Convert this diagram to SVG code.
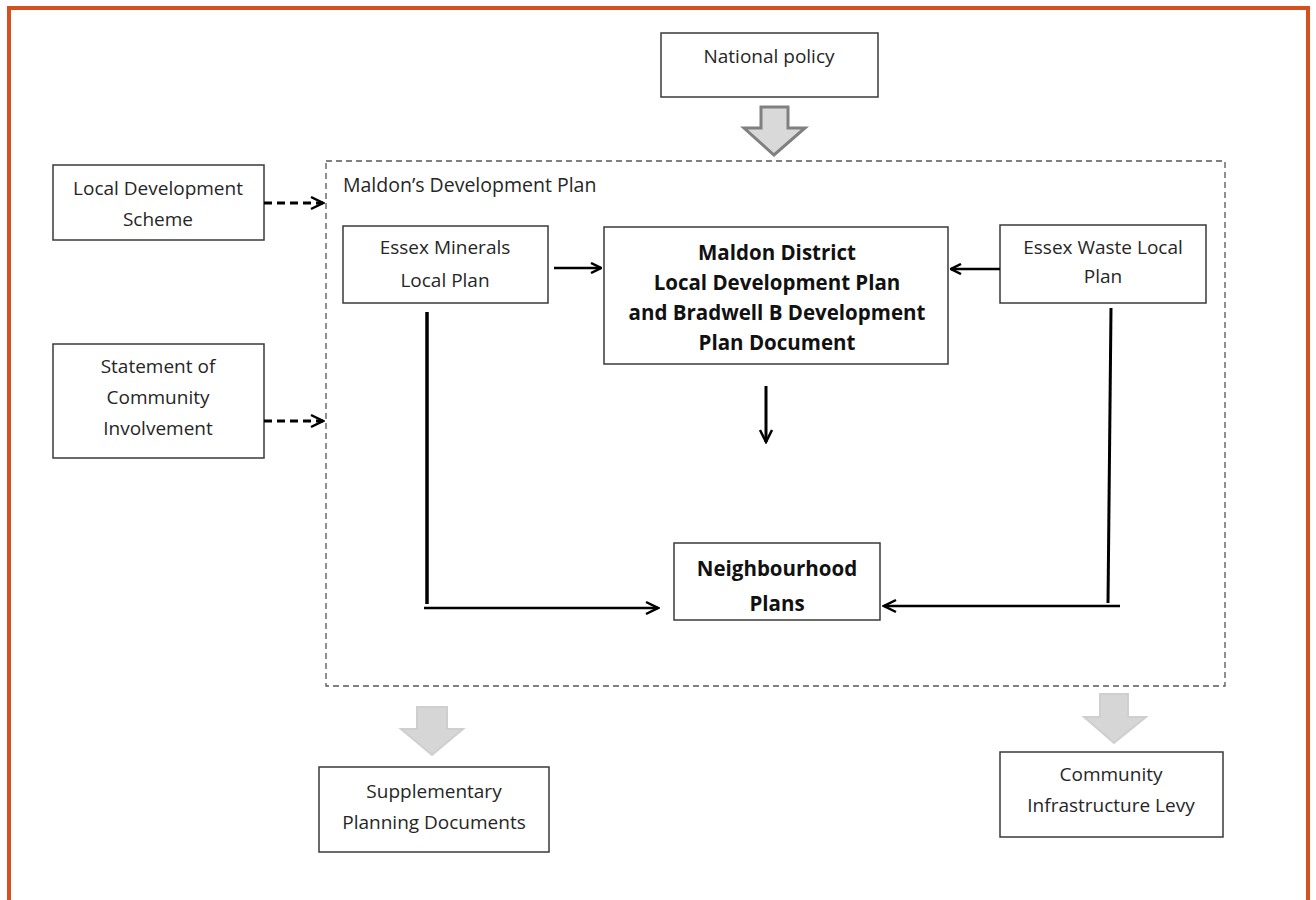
<svg xmlns="http://www.w3.org/2000/svg" width="1316" height="900" viewBox="0 0 1316 900">
<defs>
<style>
.box{fill:#fff;stroke:#3a3a3a;stroke-width:1.5}
.t{font-family:"Open Sans","Liberation Sans",sans-serif;font-size:19px;fill:#262626;text-anchor:middle}
.b{font-weight:bold;fill:#111;font-size:20.5px}
.c{fill:none;stroke:#000;stroke-width:2.5}
.d{fill:none;stroke:#000;stroke-width:3;stroke-dasharray:8 5}
.blk{fill:#d9d9d9;stroke:#808080;stroke-width:3;stroke-linejoin:miter}
.blk2{fill:#d6d6d6;stroke:#cfcfcf;stroke-width:2}
</style>
<marker id="ah" viewBox="0 0 12 12" refX="11" refY="6" markerWidth="12" markerHeight="12" markerUnits="userSpaceOnUse" orient="auto">
<path d="M1,1 L11,6 L1,11" fill="none" stroke="#000" stroke-width="2.5"/>
</marker>
<marker id="ah2" viewBox="0 0 16 16" refX="14" refY="8" markerWidth="16" markerHeight="16" markerUnits="userSpaceOnUse" orient="auto">
<path d="M2,2 L14,8 L2,14" fill="none" stroke="#000" stroke-width="2.5"/>
</marker>
</defs>
<rect width="1316" height="900" fill="#fff"/>
<rect x="9" y="8" width="1299" height="1000" fill="none" stroke="#d64f1e" stroke-width="4"/>

<g id="container">
<rect x="326" y="161" width="899" height="525" fill="none" stroke="#555" stroke-width="1.3" stroke-dasharray="6 4"/>
<text class="t" x="343" y="192" style="text-anchor:start;font-size:19.5px">Maldon’s Development Plan</text>
</g>

<g id="national-policy">
<rect class="box" x="661" y="33" width="217" height="64"/>
<text class="t" x="769" y="63">National policy</text>
</g>
<g id="lds">
<rect class="box" x="53" y="165" width="211" height="75"/>
<text class="t" x="158" y="195">Local Development</text>
<text class="t" x="158" y="226">Scheme</text>
</g>
<g id="sci">
<rect class="box" x="53" y="344" width="211" height="114"/>
<text class="t" x="158" y="373">Statement of</text>
<text class="t" x="158" y="404">Community</text>
<text class="t" x="158" y="435">Involvement</text>
</g>
<g id="minerals">
<rect class="box" x="343" y="226" width="205" height="77"/>
<text class="t" x="445" y="254">Essex Minerals</text>
<text class="t" x="445" y="287">Local Plan</text>
</g>
<g id="maldon">
<rect class="box" x="604" y="227" width="344" height="137"/>
<text class="t b" x="777" y="260">Maldon District</text>
<text class="t b" x="777" y="290">Local Development Plan</text>
<text class="t b" x="777" y="320">and Bradwell B Development</text>
<text class="t b" x="777" y="350">Plan Document</text>
</g>
<g id="waste">
<rect class="box" x="1000" y="225" width="206" height="78"/>
<text class="t" x="1103" y="254">Essex Waste Local</text>
<text class="t" x="1103" y="283">Plan</text>
</g>
<g id="neighbourhood">
<rect class="box" x="674" y="543" width="206" height="77"/>
<text class="t b" x="777" y="576">Neighbourhood</text>
<text class="t b" x="777" y="611">Plans</text>
</g>
<g id="spd">
<rect class="box" x="319" y="767" width="230" height="85"/>
<text class="t" x="434" y="798">Supplementary</text>
<text class="t" x="434" y="829">Planning Documents</text>
</g>
<g id="cil">
<rect class="box" x="1000" y="752" width="223" height="85"/>
<text class="t" x="1111" y="781">Community</text>
<text class="t" x="1111" y="812">Infrastructure Levy</text>
</g>

<g id="connectors">
<path class="blk" d="M761,107 H788 V128 H805 L774,155 L744,128 H761 Z"/>
<path class="blk2" d="M417,707 H447 V729 H463 L432,755 L401,729 H417 Z"/>
<path class="blk2" d="M1100,694 H1128 V717 H1146 L1114,743 L1084,717 H1100 Z"/>
<path class="d" d="M264,203 H323" marker-end="url(#ah2)"/>
<path class="d" d="M264,421 H323" marker-end="url(#ah2)"/>
<path class="c" d="M554,268 H601" marker-end="url(#ah)"/>
<path class="c" d="M1000,269 H951" marker-end="url(#ah)"/>
<path d="M766,386 V442" fill="none" stroke="#000" stroke-width="3" marker-end="url(#ah2)"/>
<path d="M427,312 V604" stroke="#000" stroke-width="3.5" fill="none"/>
<path class="c" d="M424,608 H658" marker-end="url(#ah2)"/>
<path d="M1111,308 L1108,603" stroke="#000" stroke-width="3" fill="none"/>
<path class="c" d="M1120,606 H884" marker-end="url(#ah2)"/>
</g>
</svg>
